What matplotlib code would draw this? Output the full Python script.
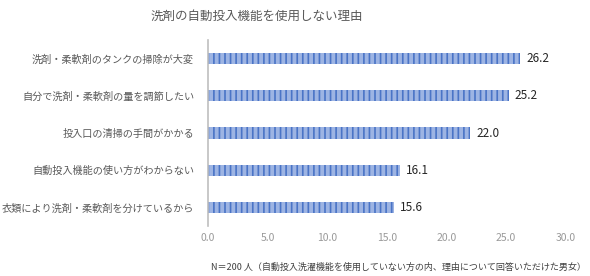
import matplotlib
matplotlib.use("Agg")
import matplotlib.pyplot as plt

plt.rcParams['font.family'] = ['Noto Sans CJK JP', 'DejaVu Sans']
plt.rcParams['hatch.linewidth'] = 1.2

TITLE = "洗剤の自動投入機能を使用しない理由"
NOTE = "N＝200 人（自動投入洗濯機能を使用していない方の内、理由について回答いただけた男女）"

reasons = [
    "洗剤・柔軟剤のタンクの掃除が大変",
    "自分で洗剤・柔軟剤の量を調節したい",
    "投入口の清掃の手間がかかる",
    "自動投入機能の使い方がわからない",
    "衣類により洗剤・柔軟剤を分けているから",
]
values = [26.2, 25.2, 22.0, 16.1, 15.6]
x_ticks = [0, 5, 10, 15, 20, 25, 30]

fig = plt.figure(figsize=(5.9, 2.76), dpi=100)
ax = fig.add_axes([0.3525, 0.181, 0.6065, 0.674])

ypos = list(range(len(reasons)))[::-1]
ax.barh(ypos, values, height=0.3, color="#9db4e3",
        edgecolor="#4a74c6", hatch="|||", linewidth=0)

for y, v in zip(ypos, values):
    ax.text(v + 0.5, y, f"{v:.1f}", va="center", ha="left",
            fontsize=8.5, color="#262626")

ax.set_xlim(0, 30)
ax.set_ylim(-0.5, 4.5)
ax.set_yticks(ypos)
ax.set_yticklabels(reasons, fontsize=7.3, color="#595959")
ax.set_xticks(x_ticks)
ax.set_xticklabels([f"{t:.1f}" for t in x_ticks], fontsize=7.5, color="#999999")

for s in ["top", "right", "bottom"]:
    ax.spines[s].set_visible(False)
ax.spines["left"].set_color("#bfbfbf")
ax.spines["left"].set_linewidth(1.2)
ax.tick_params(axis="both", length=0)
ax.tick_params(axis="y", pad=10)
ax.tick_params(axis="x", pad=5)

fig.text(0.435, 0.94, TITLE, ha="center", va="center",
         fontsize=9, color="#595959")
fig.text(0.358, 0.03, NOTE, ha="left", va="center", fontsize=6.5, color="#404040")

fig.savefig("out.png", dpi=100)
